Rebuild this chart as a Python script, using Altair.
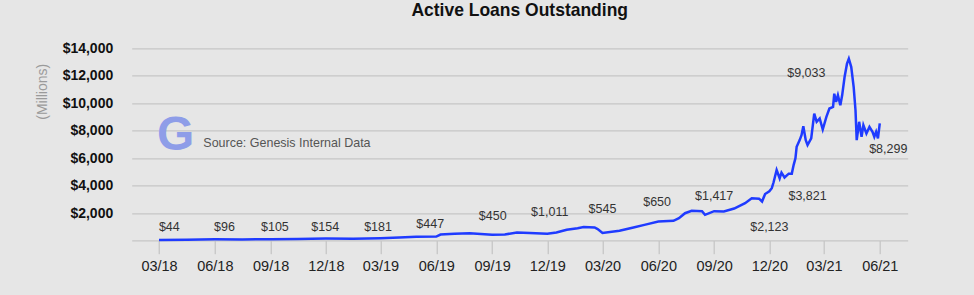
import altair as alt
import pandas as pd

# ---- data ----
dates = [
    "2018-03-01", "2018-04-16", "2018-06-01", "2018-07-16", "2018-09-01", "2018-10-16",
    "2018-12-01", "2019-01-15", "2019-03-01", "2019-04-01", "2019-04-29", "2019-06-01",
    "2019-06-08", "2019-07-01", "2019-07-26", "2019-09-01", "2019-09-22", "2019-10-12",
    "2019-11-02", "2019-12-01", "2019-12-16", "2020-01-02", "2020-01-20", "2020-01-30",
    "2020-02-17", "2020-02-22", "2020-03-01", "2020-03-29", "2020-04-21", "2020-05-09",
    "2020-06-01", "2020-06-26", "2020-07-05", "2020-07-15", "2020-07-26", "2020-08-12",
    "2020-08-17", "2020-09-01", "2020-09-17", "2020-10-04", "2020-10-22", "2020-11-02",
    "2020-11-14", "2020-11-19", "2020-11-24", "2020-12-01", "2020-12-05", "2020-12-08",
    "2020-12-13", "2020-12-18", "2020-12-21", "2020-12-26", "2021-01-02", "2021-01-07",
    "2021-01-10", "2021-01-13", "2021-01-15", "2021-01-20", "2021-01-23", "2021-01-26",
    "2021-01-30", "2021-02-02", "2021-02-08", "2021-02-13", "2021-02-17", "2021-02-22",
    "2021-02-27", "2021-03-05", "2021-03-10", "2021-03-16", "2021-03-18", "2021-03-21",
    "2021-03-24", "2021-03-28", "2021-03-31", "2021-04-04", "2021-04-08", "2021-04-11",
    "2021-04-15", "2021-04-19", "2021-04-22", "2021-04-24", "2021-04-28", "2021-05-02",
    "2021-05-05", "2021-05-10", "2021-05-15", "2021-05-20", "2021-05-23", "2021-05-26",
    "2021-05-29", "2021-06-01",
]
loans = [
    44, 65, 96, 95, 105, 125,
    154, 150, 181, 230, 280, 300,
    450, 500, 540, 430, 450, 600,
    560, 500, 600, 800, 900, 990,
    960, 850, 560, 720, 960, 1150,
    1400, 1450, 1640, 2000, 2170, 2150,
    1880, 2150, 2130, 2340, 2730, 3090,
    3060, 2850, 3400, 3600, 3820, 4250,
    5140, 4540, 4950, 4600, 4880, 4880,
    5500, 5990, 6830, 7320, 7680, 8330,
    7320, 6960, 7440, 9250, 8650, 8890,
    8090, 9010, 9620, 9730, 10700, 10100,
    10580, 9860, 10580, 11910, 12880, 13240,
    12630, 11180, 9490, 7320, 8650, 7560,
    8400, 7800, 8280, 7920, 7560, 7920,
    7440, 8530,
]

label_text = ["$44", "$96", "$105", "$154", "$181", "$447", "$450", "$1,011",
              "$545", "$650", "$1,417", "$2,123", "$3,821", "$9,033", "$8,299"]
label_date = ["2018-03-18", "2018-06-17", "2018-09-08", "2018-11-30", "2019-02-25",
              "2019-05-22", "2019-09-02", "2019-12-05", "2020-03-01", "2020-05-30",
              "2020-09-01", "2020-12-01", "2021-02-02", "2021-01-31", "2021-06-15"]
label_value = [995, 995, 995, 995, 995, 1213, 1794, 2106, 2324, 2789,
               3246, 995, 3246, 12230, 6638]

quarter_ticks = [(2018, 3), (2018, 6), (2018, 9), (2018, 12), (2019, 3), (2019, 6),
                 (2019, 9), (2019, 12), (2020, 3), (2020, 6), (2020, 9), (2020, 12),
                 (2021, 3), (2021, 6)]
y_ticks = [0, 2000, 4000, 6000, 8000, 10000, 12000, 14000]

FONT = "Liberation Sans"

line_df = pd.DataFrame({"date": dates, "loans": loans})
lab_df = pd.DataFrame({"date": label_date, "value": label_value, "text": label_text})

x_scale = alt.Scale(type="utc", domain=["2018-01-15", "2021-07-17"])
y_scale = alt.Scale(domain=[0, 14000], nice=False)

x_axis = alt.Axis(
    values=[alt.DateTime(year=y, month=m, date=1, utc=True) for y, m in quarter_ticks],
    labelExpr="utcFormat(datum.value, '%m/%y')",
    title=None, grid=False, domain=False, labelOverlap=False,
    ticks=True, tickSize=13, tickColor="#bdbdbd", tickWidth=1,
    labelFontSize=14.5, labelColor="#222", labelFont=FONT, labelPadding=6,
)
y_axis = alt.Axis(
    values=y_ticks, tickCount=8,
    labelExpr="datum.value == 0 ? '' : '$' + format(datum.value, ',d')",
    labelOverlap=False,
    title="(Millions)", titleFont=FONT, titleFontSize=14, titleFontWeight="normal",
    titleColor="#9a9a9a", titleX=-89, titleY=43, titleAlign="center",
    titleBaseline="middle", titleAngle=-90,
    grid=True, gridColor="#c6c6c6", gridWidth=1.2, domain=False, ticks=False,
    labelFontSize=14, labelFontWeight="bold", labelColor="#111", labelFont=FONT,
    labelPadding=19,
)

line = alt.Chart(line_df).mark_line(color="#1f3bff", strokeWidth=2.5).encode(
    x=alt.X("date:T", scale=x_scale, axis=x_axis),
    y=alt.Y("loans:Q", scale=y_scale, axis=y_axis),
)

labels = alt.Chart(lab_df).mark_text(
    font=FONT, fontSize=12.5, color="#333", align="center", baseline="middle"
).encode(
    x=alt.X("date:T", scale=x_scale, axis=x_axis),
    y=alt.Y("value:Q", scale=y_scale, axis=y_axis),
    text="text:N",
)

logo = alt.Chart(pd.DataFrame({"t": ["G"]})).mark_text(
    font=FONT, fontSize=48, fontWeight="bold", color="#8e9de8",
    align="center", baseline="alphabetic"
).encode(x=alt.value(44), y=alt.value(101.7), text="t:N")

source = alt.Chart(pd.DataFrame({"t": ["Source: Genesis Internal Data"]})).mark_text(
    font=FONT, fontSize=12.5, color="#555", align="left", baseline="middle"
).encode(x=alt.value(71.6), y=alt.value(95), text="t:N")

chart = alt.layer(line, labels, logo, source).properties(
    width=776, height=192.4,
    title=alt.TitleParams("Active Loans Outstanding", font=FONT, fontSize=17.5,
                          fontWeight="bold", color="#111", anchor="middle", offset=22),
    background="#e6e6e6",
    padding={"left": 131.7, "top": 48.3, "right": 66, "bottom": 54},
    autosize=alt.AutoSizeParams(type="none"),
).configure_view(stroke=None)

chart.save("out.html", embed_options={"renderer": "svg", "actions": False})
